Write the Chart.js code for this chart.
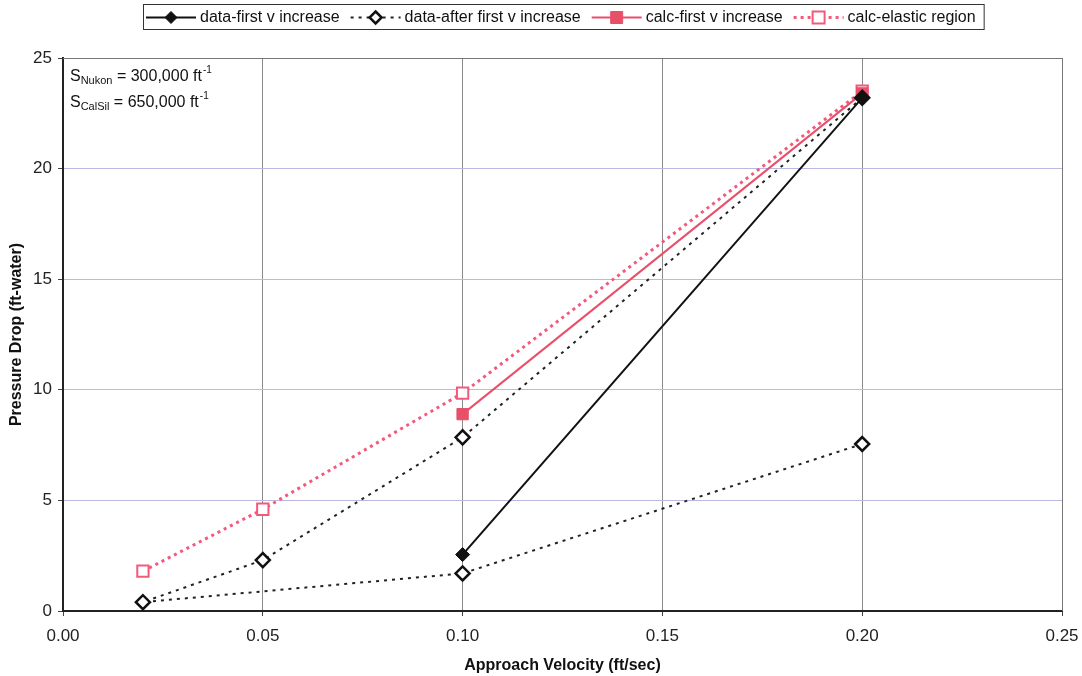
<!DOCTYPE html>
<html>
<head>
<meta charset="utf-8">
<title>Pressure Drop vs Approach Velocity</title>
<script src="https://cdn.jsdelivr.net/npm/chart.js@4.4.1/dist/chart.umd.min.js"></script>
<style>
  body { margin: 0; background: #fff; }
  #wrap { width: 1082px; height: 676px; }
</style>
</head>
<body>
<div id="wrap"><canvas id="dpChart" width="1082" height="676"></canvas></div>

<script>
// --- data ---
var seriesNames = ["data-first v increase", "data-after first v increase", "calc-first v increase", "calc-elastic region"];

var firstVel = [0.10, 0.20];
var firstDp = [2.55, 23.2];

// after first increase: down from 0.20 to 0.02, then back up
var afterVel = [0.20, 0.10, 0.05, 0.02, 0.10, 0.20];
var afterDp = [23.2, 7.85, 2.3, 0.4, 1.7, 7.55];

var calcFirstVel = [0.10, 0.20];
var calcFirstDp = [8.9, 23.4];

var elasticVel = [0.02, 0.05, 0.10, 0.20];
var elasticDp = [1.8, 4.6, 9.85, 23.5];

var xTicks = [0, 0.05, 0.10, 0.15, 0.20, 0.25];
var yTicks = [0, 5, 10, 15, 20, 25];

var FONT = "'Liberation Sans', Arial, sans-serif";
var RED = "#e8506a";
var PINK = "#f25a7c";

function pts(xs, ys) {
  return xs.map(function (x, i) { return { x: x, y: ys[i] }; });
}

function marker(ctx, d, x, y) {
  ctx.fillStyle = d.pointBackgroundColor;
  ctx.strokeStyle = d.pointBorderColor;
  ctx.lineWidth = d.pointBorderWidth;
  ctx.beginPath();
  if (d.pointStyle === 'rectRot') {
    var r = d.pointRadius - 1;
    ctx.moveTo(x, y - r); ctx.lineTo(x + r, y);
    ctx.lineTo(x, y + r); ctx.lineTo(x - r, y);
    ctx.closePath();
  } else {
    var s = d.pointRadius * 0.75;
    ctx.rect(x - s, y - s, 2 * s, 2 * s);
  }
  ctx.fill();
  ctx.stroke();
}

// legend with line + marker samples, boxed like the original
var boxLegend = {
  id: 'boxLegend',
  afterDraw: function (chart) {
    var ctx = chart.ctx;
    ctx.save();
    ctx.font = "16px " + FONT;
    var seg = 50, gap = 4, itemGap = 11;
    var widths = chart.data.datasets.map(function (d) { return ctx.measureText(d.label).width; });
    var total = 3 + 8 + itemGap * (widths.length - 1);
    widths.forEach(function (w) { total += seg + gap + w; });
    var cx = (chart.chartArea.left + chart.chartArea.right) / 2 + 1;
    var x0 = Math.round(cx - total / 2), y0 = 4, h = 25;
    ctx.fillStyle = '#fff';
    ctx.fillRect(x0, y0, total, h);
    ctx.strokeStyle = '#333';
    ctx.lineWidth = 1;
    ctx.strokeRect(x0 + 0.5, y0 + 0.5, total, h);
    var x = x0 + 3, ym = y0 + h / 2 + 1;
    chart.data.datasets.forEach(function (d, i) {
      ctx.strokeStyle = d.borderColor;
      ctx.lineWidth = d.borderWidth;
      ctx.setLineDash(d.borderDash || []);
      ctx.beginPath();
      ctx.moveTo(x, ym);
      ctx.lineTo(x + seg, ym);
      ctx.stroke();
      ctx.setLineDash([]);
      marker(ctx, d, x + seg / 2, ym);
      ctx.fillStyle = '#111';
      ctx.textBaseline = 'middle';
      ctx.fillText(d.label, x + seg + gap, ym);
      x += seg + gap + widths[i] + itemGap;
    });
    ctx.restore();
  }
};

// thin frame on top/right and the S values note
var frameNote = {
  id: 'frameNote',
  beforeDatasetsDraw: function (chart) {
    var a = chart.chartArea, ctx = chart.ctx;
    ctx.save();
    ctx.strokeStyle = '#777';
    ctx.lineWidth = 1;
    ctx.beginPath();
    ctx.moveTo(a.left, a.top + 0.5); ctx.lineTo(a.right + 0.5, a.top + 0.5);
    ctx.lineTo(a.right + 0.5, a.bottom);
    ctx.stroke();
    ctx.restore();
  },
  afterDraw: function (chart) {
    var a = chart.chartArea, ctx = chart.ctx;
    ctx.save();
    ctx.fillStyle = '#111';
    ctx.textBaseline = 'alphabetic';
    var lines = [["S", "Nukon", " = 300,000 ft", "-1"], ["S", "CalSil", " = 650,000 ft", "-1"]];
    lines.forEach(function (l, i) {
      var x = a.left + 7, y = a.top + 23 + i * 26;
      ctx.font = "16px " + FONT;
      ctx.fillText(l[0], x, y); x += ctx.measureText(l[0]).width;
      ctx.font = "11px " + FONT;
      ctx.fillText(l[1], x, y + 3); x += ctx.measureText(l[1]).width;
      ctx.font = "16px " + FONT;
      ctx.fillText(l[2], x, y); x += ctx.measureText(l[2]).width + 1;
      ctx.font = "10px " + FONT;
      ctx.fillText(l[3], x, y - 8);
    });
    ctx.restore();
  }
};

new Chart(document.getElementById('dpChart').getContext('2d'), {
  type: 'scatter',
  data: {
    datasets: [{
      label: seriesNames[0],
      data: pts(firstVel, firstDp),
      showLine: true,
      borderColor: '#111',
      borderWidth: 2,
      pointStyle: 'rectRot',
      pointRadius: 7,
      pointBackgroundColor: '#111',
      pointBorderColor: '#111',
      pointBorderWidth: 1
    }, {
      label: seriesNames[1],
      data: pts(afterVel, afterDp),
      showLine: true,
      borderColor: '#222',
      borderWidth: 2,
      borderDash: [3, 5],
      pointStyle: 'rectRot',
      pointRadius: 7,
      pointBackgroundColor: '#fff',
      pointBorderColor: '#111',
      pointBorderWidth: 2.5
    }, {
      label: seriesNames[2],
      data: pts(calcFirstVel, calcFirstDp),
      showLine: true,
      borderColor: RED,
      borderWidth: 2,
      pointStyle: 'rect',
      pointRadius: 8,
      pointBackgroundColor: RED,
      pointBorderColor: RED,
      pointBorderWidth: 1
    }, {
      label: seriesNames[3],
      data: pts(elasticVel, elasticDp),
      showLine: true,
      borderColor: PINK,
      borderWidth: 3,
      borderDash: [3, 4],
      pointStyle: 'rect',
      pointRadius: 8,
      pointBackgroundColor: '#fff',
      pointBorderColor: PINK,
      pointBorderWidth: 2
    }]
  },
  options: {
    responsive: false,
    animation: false,
    layout: { padding: { left: 6, right: 20, top: 58, bottom: 0 } },
    plugins: {
      legend: { display: false },
      tooltip: { enabled: false }
    },
    scales: {
      x: {
        type: 'linear',
        min: 0, max: 0.25,
        afterBuildTicks: function (s) { s.ticks = xTicks.map(function (v) { return { value: v }; }); },
        afterFit: function (s) { s.height = 65; s.paddingLeft = 0; s.paddingRight = 0; },
        ticks: {
          color: '#222',
          font: { family: FONT, size: 17 },
          padding: 10,
          callback: function (v) { return v.toFixed(2); }
        },
        grid: { color: '#8a8a8a', lineWidth: 1, tickLength: 5, tickColor: '#444' },
        border: { color: '#222', width: 2 },
        title: {
          display: true,
          text: 'Approach Velocity (ft/sec)',
          color: '#111',
          padding: { top: 4, bottom: 1 },
          font: { family: FONT, size: 16, weight: 'bold' }
        }
      },
      y: {
        min: 0, max: 25,
        afterBuildTicks: function (s) { s.ticks = yTicks.map(function (v) { return { value: v }; }); },
        afterFit: function (s) { s.width = 57; s.paddingTop = 0; s.paddingBottom = 0; },
        ticks: {
          color: '#222',
          font: { family: FONT, size: 17 },
          padding: 6
        },
        grid: { color: '#b9b9e2', lineWidth: 1, tickLength: 5, tickColor: '#444' },
        border: { color: '#222', width: 2 },
        title: {
          display: true,
          text: 'Pressure Drop (ft-water)',
          color: '#111',
          padding: { top: 1, bottom: 4 },
          font: { family: FONT, size: 16, weight: 'bold' }
        }
      }
    }
  },
  plugins: [frameNote, boxLegend]
});
</script>
</body>
</html>
